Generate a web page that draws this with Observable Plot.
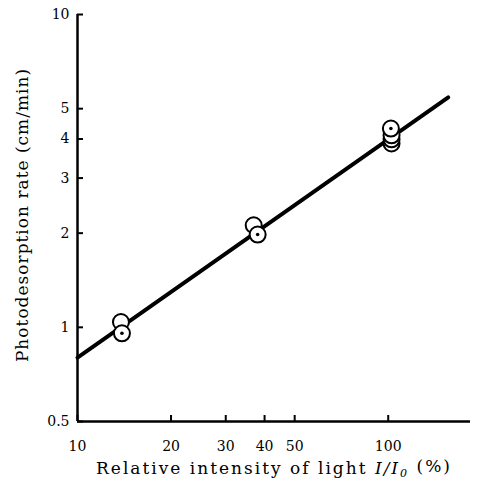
<!DOCTYPE html>
<html><head><meta charset="utf-8">
<script src="https://cdn.jsdelivr.net/npm/d3@7"></script>
<script src="https://cdn.jsdelivr.net/npm/@observablehq/plot@0.6"></script>
<style>body{margin:0;background:#fff} svg{display:block}</style>
</head><body><div id="chart"></div>
<script>
const xTicks = [10, 20, 30, 40, 50, 100];
const xTickLabels = ["10", "20", "30", "40", "50", "100"];
const yTicks = [0.5, 1, 2, 3, 4, 5, 10];
const yTickLabels = ["0.5", "1", "2", "3", "4", "5", "10"];
const ptX = [13.8, 13.9, 36.9, 38.0, 102.5, 102.5, 102.5, 102];
const ptY = [1.04, 0.957, 2.12, 1.98, 3.87, 3.99, 4.11, 4.32];
const ptDot = [false, true, false, true, false, false, false, true];
const fitX = [10, 156];
const fitY = [0.80, 5.43];
const xDomain = [10, 184];
const yDomain = [0.5, 10];
const xTitle = "Relative intensity of light I/I₀ (%)";
const yTitle = "Photodesorption rate (cm/min)";

const pts = ptX.map((x, i) => ({x, y: ptY[i], dot: ptDot[i]}));
const fit = fitX.map((x, i) => ({x, y: fitY[i]}));

const plot = Plot.plot({
  width: 479, height: 487,
  marginLeft: 77, marginRight: 9, marginTop: 14, marginBottom: 66,
  x: {type: "log", domain: xDomain},
  y: {type: "log", domain: yDomain},
  style: {fontFamily: "'DejaVu Serif', serif", background: "white", color: "black", fontSize: "14px"},
  marks: [
    Plot.axisX({ticks: xTicks, tickFormat: d => xTickLabels[xTicks.indexOf(d)], tickSize: -6, tickPadding: 26, fontSize: 14, label: null, strokeWidth: 2}),
    Plot.axisY({ticks: yTicks, tickFormat: d => yTickLabels[yTicks.indexOf(d)], tickSize: -6, tickPadding: 14, fontSize: 14, label: null, strokeWidth: 2}),
    Plot.ruleX([xDomain[0]], {y1: yDomain[0], y2: yDomain[1], strokeWidth: 2.5}),
    Plot.ruleY([yDomain[0]], {x1: xDomain[0], x2: xDomain[1], strokeWidth: 2.5}),
    Plot.line(fit, {x: "x", y: "y", strokeWidth: 4}),
    Plot.dot(pts, {x: "x", y: "y", r: 8, fill: "white", stroke: "black", strokeWidth: 2}),
    Plot.dot(pts.filter(d => d.dot), {x: "x", y: "y", r: 1.8, fill: "black", stroke: null}),
    Plot.text([yTitle], {frameAnchor: "left", textAnchor: "middle", rotate: -90, dx: -55, dy: -3, fontSize: 17}),
    Plot.text([xTitle], {frameAnchor: "bottom", textAnchor: "middle", dy: 52, fontSize: 17})
  ]
});

d3.select(plot).selectAll("text").filter(function() { return this.textContent === yTitle; }).attr("letter-spacing", "1px");
d3.select(plot).selectAll("text").filter(function() { return this.textContent === xTitle; }).attr("letter-spacing", "2px");

d3.select(plot).selectAll("text").filter(function() { return this.textContent === xTitle; }).each(function() {
  const t = d3.select(this);
  t.text(null);
  t.append("tspan").text("Relative intensity of light ");
  t.append("tspan").attr("font-style", "italic").text("I/I");
  t.append("tspan").attr("font-style", "italic").attr("font-size", "0.65em").attr("dy", "0.3em").text("0");
  t.append("tspan").attr("dy", "-0.3em").text(" (%)");
});

document.getElementById("chart").append(plot);
</script>
</body></html>
